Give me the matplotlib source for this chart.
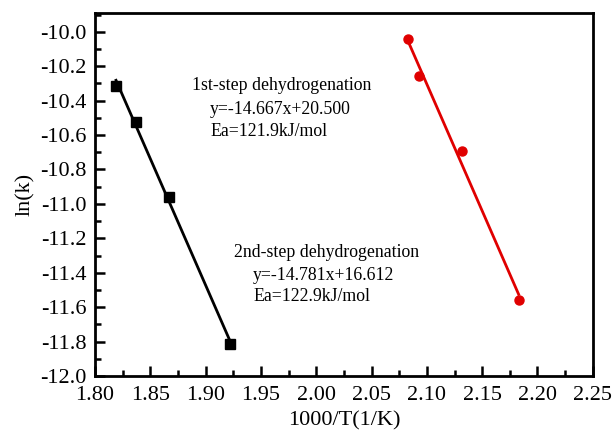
import numpy as np
import matplotlib
matplotlib.use('Agg')
from matplotlib import pyplot as plt
from matplotlib.ticker import MultipleLocator, FormatStrFormatter

plt.rcParams['font.family'] = 'Liberation Serif'

# first step (black squares)
x1 = [1.819, 1.837, 1.867, 1.922]
y1 = [-10.315, -10.526, -10.958, -11.813]
# second step (red circles)
x2 = [2.083, 2.093, 2.1315, 2.183]
y2 = [-10.042, -10.259, -10.692, -11.557]

fig = plt.figure(figsize=(6.13, 4.34), dpi=100)
ax = fig.add_axes([0.155, 0.1336, 0.812, 0.8357])

for x, y, c, m in [(x1, y1, 'black', 's'), (x2, y2, '#e00000', 'o')]:
    k, b = np.polyfit(x, y, 1)
    xx = np.array([x[0], x[-1]])
    ax.plot(xx, k * xx + b, color=c, lw=2)
    ax.plot(x, y, ls='none', marker=m, color=c, ms=6.5)

ax.set_xlim(1.80, 2.25)
ax.set_ylim(-12.0, -9.893)
ax.xaxis.set_major_locator(MultipleLocator(0.05))
ax.xaxis.set_minor_locator(MultipleLocator(0.025))
ax.yaxis.set_major_locator(MultipleLocator(0.2))
ax.yaxis.set_minor_locator(MultipleLocator(0.1))
ax.xaxis.set_major_formatter(FormatStrFormatter('%.2f'))
ax.yaxis.set_major_formatter(FormatStrFormatter('%.1f'))
ax.tick_params(which='both', direction='in', top=False, right=False, width=1.8, labelsize=16)
ax.tick_params(which='major', length=7, pad=6)
ax.tick_params(axis='x', which='major', pad=7.5)
ax.tick_params(which='minor', length=4)
for s in ax.spines.values():
    s.set_linewidth(2)

ax.set_xlabel('1000/T(1/K)', fontsize=16, labelpad=4)
ax.set_ylabel('ln(k)', fontsize=16, labelpad=4)

fs = 12.8
ax.text(1.888, -10.31, '1st-step dehydrogenation', fontsize=fs, va='center')
ax.text(1.904, -10.45, 'y=-14.667x+20.500', fontsize=fs, va='center')
ax.text(1.904, -10.58, 'Ea=121.9kJ/mol', fontsize=fs, va='center')
ax.text(1.926, -11.285, '2nd-step dehydrogenation', fontsize=fs, va='center')
ax.text(1.943, -11.416, 'y=-14.781x+16.612', fontsize=fs, va='center')
ax.text(1.943, -11.54, 'Ea=122.9kJ/mol', fontsize=fs, va='center')

fig.savefig('out.png', dpi=100)
